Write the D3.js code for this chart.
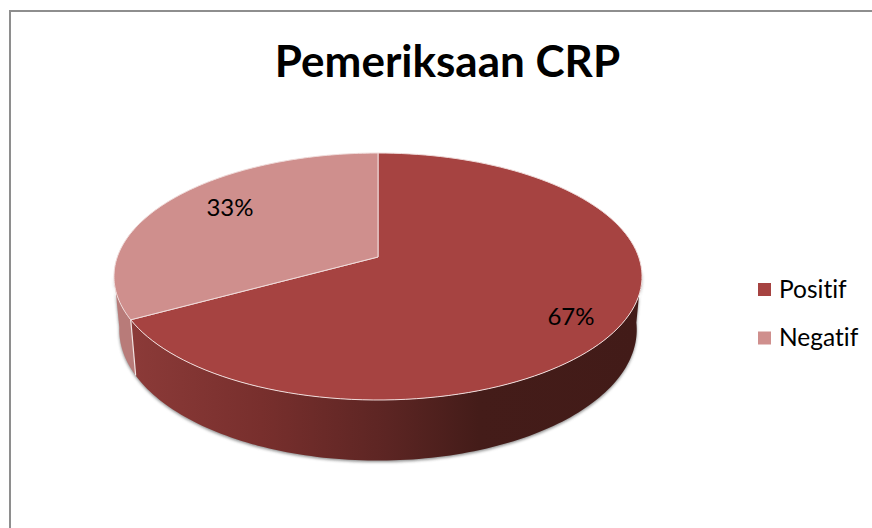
<!DOCTYPE html>
<html>
<head>
<meta charset="utf-8">
<script src="https://cdn.jsdelivr.net/npm/d3@7"></script>
<style>
body { margin: 0; background: #fff; }
svg { display: block; }
text { font-family: Lato, "Open Sans", sans-serif; fill: #000; font-variant-ligatures: none; }
</style>
</head>
<body>
<div id="chart"></div>
<script>
var categories = ["Positif", "Negatif"];
var values = [67, 33];
var labels = ["67%", "33%"];
var colors = ["#a64341", "#cf8f8d"];
var title = "Pemeriksaan CRP";

var width = 872, height = 528;
var cx = 378, cy = 257;
var kx = 260.7, ky = 120.4, persp = -0.158;
// floor of the pie is a bit narrower and sits lower than the top
var floorX = 0.98, floorY = 1.06, floorDy = 52;

var svg = d3.select("#chart").append("svg")
    .attr("width", width)
    .attr("height", height);

var defs = svg.append("defs");
defs.append("filter").attr("id", "blur")
    .attr("x", "-10%").attr("y", "-10%").attr("width", "120%").attr("height", "120%")
    .append("feGaussianBlur").attr("stdDeviation", 1.5);

var wallGrad = defs.append("linearGradient").attr("id", "wallGrad")
    .attr("gradientUnits", "userSpaceOnUse")
    .attr("x1", 135).attr("x2", 640).attr("y1", 0).attr("y2", 0);
wallGrad.append("stop").attr("offset", "0%").attr("stop-color", "#8b3a38");
wallGrad.append("stop").attr("offset", "25%").attr("stop-color", "#782f2d");
wallGrad.append("stop").attr("offset", "50%").attr("stop-color", "#5c2523");
wallGrad.append("stop").attr("offset", "68%").attr("stop-color", "#441c19");
wallGrad.append("stop").attr("offset", "100%").attr("stop-color", "#421b18");

// frame
svg.append("path")
    .attr("d", d3.line()([[10, height], [10, 11], [width, 11]]))
    .attr("fill", "none")
    .attr("stroke", "#8e8e8e")
    .attr("stroke-width", 2);

svg.append("text")
    .attr("x", 447.5).attr("y", 77)
    .attr("text-anchor", "middle")
    .style("font-size", "44px")
    .style("font-weight", "bold")
    .text(title);

function topRim(a) {
    var u = Math.sin(a), v = -Math.cos(a), d = 1 + persp * v;
    return [cx + kx * u / d, cy + ky * v / d];
}
function floorRim(a) {
    var u = Math.sin(a), v = -Math.cos(a), d = 1 + persp * v;
    return [cx + floorX * kx * u / d, cy + floorDy + floorY * ky * v / d];
}
function arcPoints(fn, a0, a1) {
    return d3.range(0, 121).map(function(i) {
        return fn(a0 + (a1 - a0) * i / 120);
    });
}
var line = d3.line();
function wall(a0, a1) {
    return line(arcPoints(topRim, a0, a1).concat(arcPoints(floorRim, a1, a0))) + "Z";
}
function slice(a0, a1) {
    return line([[cx, cy]].concat(arcPoints(topRim, a0, a1))) + "Z";
}

var pie = d3.pie().sort(null)(values);
var rad = Math.PI / 180;
var wallStart = 96 * rad, wallEnd = 262 * rad;
var split = pie[0].endAngle;

// soft shadow under the pie
svg.append("path")
    .attr("d", wall(wallStart, wallEnd))
    .attr("transform", "translate(0,1.5)")
    .attr("fill", "#666")
    .attr("opacity", 0.75)
    .attr("filter", "url(#blur)");

// walls
svg.append("path").attr("d", wall(split, wallEnd)).attr("fill", "#b87b79");
svg.append("path").attr("d", wall(wallStart, split)).attr("fill", "url(#wallGrad)");
svg.append("path")
    .attr("d", line([topRim(split), floorRim(split)]))
    .attr("stroke", "#f3e4e3").attr("stroke-width", 1.2);

// top of the pie
svg.selectAll("path.slice")
    .data(pie)
    .enter().append("path")
    .attr("class", "slice")
    .attr("d", function(d) { return slice(d.startAngle, d.endAngle); })
    .attr("fill", function(d, i) { return colors[i]; })
    .attr("stroke", "#f0dcdb")
    .attr("stroke-width", 1)
    .attr("stroke-linejoin", "round");

// data labels
var labelPos = [[571, 325], [230, 216]];
svg.selectAll("text.label")
    .data(labels)
    .enter().append("text")
    .attr("class", "label")
    .attr("x", function(d, i) { return labelPos[i][0]; })
    .attr("y", function(d, i) { return labelPos[i][1]; })
    .attr("text-anchor", "middle")
    .style("font-size", "24px")
    .text(function(d) { return d; });

// legend
var legend = svg.selectAll("g.legend")
    .data(categories)
    .enter().append("g")
    .attr("class", "legend")
    .attr("transform", function(d, i) { return "translate(758," + (283 + i * 48.5) + ")"; });
legend.append("rect")
    .attr("width", 13).attr("height", 13)
    .attr("fill", function(d, i) { return colors[i]; });
legend.append("text")
    .attr("x", 21).attr("y", 14.5)
    .style("font-size", "24.5px")
    .text(function(d) { return d; });
</script>
</body>
</html>
